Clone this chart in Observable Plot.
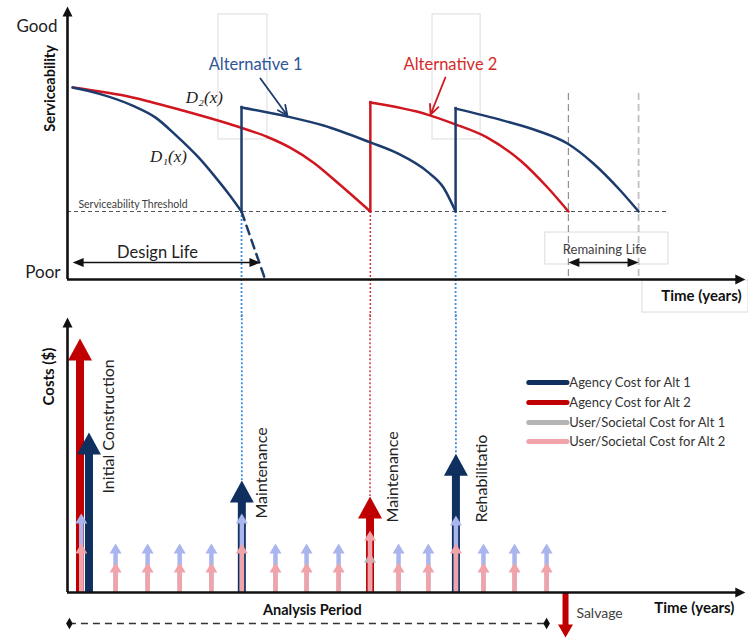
<!DOCTYPE html>
<html><head><meta charset="utf-8">
<script src="https://cdn.jsdelivr.net/npm/d3@7"></script>
<script src="https://cdn.jsdelivr.net/npm/@observablehq/plot@0.6"></script>
<style>
body{margin:0;background:#fff;}
#chart svg{display:block;overflow:visible;}
</style></head><body><div id="chart"></div>
<script>
// ---------- serviceability data (time in years, serviceability index 0 = Poor, 10 = Good) ----------
const alt1Cycle1 = [[0.16,7.03],[0.97,6.81],[2.03,6.37],[2.75,5.93],[3.37,5.30],[4.09,4.47],[4.62,3.74],[5.02,3.15],[5.43,2.49]];
const alt1Cycle2 = [[5.43,6.30],[6.86,5.97],[7.99,5.64],[9.45,5.02],[10.30,4.62],[11.23,3.95],[11.73,3.37],[12.11,2.49]];
const alt1Cycle3 = [[12.11,6.26],[13.60,5.82],[14.66,5.45],[15.60,4.98],[16.41,4.25],[17.25,3.26],[17.82,2.49]];
const alt2Cycle1 = [[0.16,7.03],[2.03,6.67],[3.59,6.19],[5.49,5.53],[6.24,5.22],[6.96,4.82],[7.68,4.28],[8.52,3.45],[9.45,2.49]];
const alt2Cycle2 = [[9.45,6.48],[11.23,6.04],[12.04,5.71],[13.10,5.20],[14.13,4.36],[14.98,3.37],[15.63,2.49]];
const d1Extension = [[5.43,2.49],[6.18,-0.04]];
const threshold = 2.49;
const alt1Treatments = [5.43, 12.11];
const alt2Treatments = [9.45];
const remainingLife = [15.63, 17.82];

// ---------- cost data ----------
const agencyAlt1Years = [0.67, 5.44, 12.12];
const agencyAlt1Costs = [5.82, 4.07, 5.05];
const agencyAlt2Years = [0.39, 9.44];
const agencyAlt2Costs = [9.24, 3.49];
const userYears = [0.43,1.5,2.5,3.5,4.49,5.44,6.49,7.46,8.46,9.44,10.33,11.26,12.12,12.98,13.95,14.95];
const userAlt1Costs = [2.87,1.78,1.78,1.78,1.78,2.87,1.78,1.78,1.78,null,1.78,1.78,2.80,1.78,1.78,1.78];
const userAlt1GrayYears = [9.44];
const userAlt1GrayCosts = [1.45];
const userAlt2Costs = [1.78,1.09,1.09,1.09,1.09,1.78,1.09,1.09,1.09,2.25,1.09,1.09,1.78,1.09,1.09,1.09];
const salvageYear = [15.54];
const salvageCost = [-1.64];
const analysisPeriod = [0.06, 14.95];
const eventLabels = ["Initial Construction","Maintenance","Maintenance","Rehabilitatio"];
const legendLabels = ["Agency Cost for Alt 1","Agency Cost for Alt 2","User/Societal Cost for Alt 1","User/Societal Cost for Alt 2"];

// ---------- colors ----------
const NAVY_LINE = "#1d3c6e", RED_LINE = "#d0161f";
const NAVY = "#0f2f5f", RED = "#c00000", LAV = "#aab5ee", PINK = "#f0a3a8", GRAY = "#b4b4b4";
const legendColors = [NAVY, RED, GRAY, PINK];

// ---------- helpers ----------
const head = (w, h) => ({draw(ctx){ctx.moveTo(0,0); ctx.lineTo(w/2,h); ctx.lineTo(-w/2,h); ctx.closePath();}});
const toRows = (arr, cycle) => arr.map(([t, v]) => ({t, v, cycle}));
const alt1Rows = [...toRows(alt1Cycle1,"c1"), ...toRows(alt1Cycle2,"c2"), ...toRows(alt1Cycle3,"c3")];
const alt2Rows = [...toRows(alt2Cycle1,"c1"), ...toRows(alt2Cycle2,"c2")];
const alt1Jumps = [alt1Cycle2[0], alt1Cycle3[0]];
const alt2Jumps = [alt2Cycle2[0]];
const zip = (xs, ys) => xs.map((x, i) => ({x, y: ys[i]})).filter(d => d.y != null);
const agency1 = zip(agencyAlt1Years, agencyAlt1Costs);
const agency2 = zip(agencyAlt2Years, agencyAlt2Costs);
const user1 = zip(userYears, userAlt1Costs);
const user1Gray = zip(userAlt1GrayYears, userAlt1GrayCosts);
const user2 = zip(userYears, userAlt2Costs);
const salvage = zip(salvageYear, salvageCost);

const annotationBoxes = [
  {x1:4.71, x2:6.24, y1:5.13, y2:9.71},
  {x1:11.39, x2:12.89, y1:5.13, y2:9.71},
  {x1:14.91, x2:18.75, y1:0.55, y2:1.72},
  {x1:17.94, x2:21.25, y1:-1.21, y2:-0.04}
];

const font = "Lato, 'Open Sans', sans-serif";
const common = {width: 748, marginLeft: 67, marginRight: 8,
  x: {domain: [0, 21], axis: null},
  style: {fontFamily: font, background: "white", overflow: "visible"}};

const topPlot = Plot.plot({
  ...common, height: 316, marginTop: 6, marginBottom: 37,
  y: {domain: [0, 10], axis: null},
  marks: [
    Plot.rect(annotationBoxes, {x1:"x1", x2:"x2", y1:"y1", y2:"y2", fill:"none", stroke:"#dcdcdc", strokeWidth:1}),
    // remaining life verticals
    Plot.ruleX([remainingLife[0]], {y1: 6.81, y2: 0, stroke:"#909090", strokeDasharray:"7,4", strokeWidth:1.2}),
    Plot.ruleX([remainingLife[1]], {y1: 6.81, y2: 0, stroke:"#c0c0c0", strokeDasharray:"7,4", strokeWidth:1.8}),
    // threshold
    Plot.ruleY([threshold], {x1: 0, x2: 18.75, stroke:"#555", strokeDasharray:"4,3", strokeWidth:1.1}),
    Plot.text(["Serviceability Threshold"], {x: 0.34, y: 2.75, textAnchor:"start", fontSize:10.5, fill:"#404040"}),
    // dotted links to treatments
    Plot.ruleX(alt1Treatments, {y1: threshold, y2: -1.4, stroke:"#3d8fd9", strokeDasharray:"2,2", strokeWidth:1.8}),
    Plot.ruleX(alt2Treatments, {y1: threshold, y2: -1.4, stroke:"#d0343a", strokeDasharray:"2,2", strokeWidth:1.5}),
    // curves
    Plot.line(alt2Rows, {x:"t", y:"v", z:"cycle", stroke: RED_LINE, strokeWidth:2.5, curve:"monotone-x"}),
    Plot.ruleX(alt2Jumps, {x: d => d[0], y1: threshold, y2: d => d[1], stroke: RED_LINE, strokeWidth:2.5, strokeLinecap:"square"}),
    Plot.line(alt1Rows, {x:"t", y:"v", z:"cycle", stroke: NAVY_LINE, strokeWidth:2.5, curve:"monotone-x"}),
    Plot.ruleX(alt1Jumps, {x: d => d[0], y1: threshold, y2: d => d[1], stroke: NAVY_LINE, strokeWidth:2.5, strokeLinecap:"square"}),
    Plot.line(d1Extension, {x: d => d[0], y: d => d[1], stroke: NAVY_LINE, strokeWidth:2.5, strokeDasharray:"9,6"}),
    // labels & pointers
    Plot.text(["Alternative 1"], {x: 5.87, y: 7.88, fill:"#2f5597", fontSize:16.5}),
    Plot.text(["Alternative 2"], {x: 11.95, y: 7.88, fill:"#d42a2a", fontSize:16.5}),
    Plot.arrow([{x1:6.02, y1:7.36, x2:6.86, y2:6.01}], {x1:"x1", y1:"y1", x2:"x2", y2:"y2", stroke: NAVY_LINE, strokeWidth:1.8, headLength:9, headAngle:50}),
    Plot.arrow([{x1:11.79, y1:7.40, x2:11.33, y2:6.04}], {x1:"x1", y1:"y1", x2:"x2", y2:"y2", stroke: RED_LINE, strokeWidth:1.8, headLength:9, headAngle:50}),
    Plot.text(["D₂(x)"], {x: 4.27, y: 6.67, fontSize:17, fontStyle:"italic", fontFamily:"'Liberation Serif', 'DejaVu Serif', serif", fill:"#222"}),
    Plot.text(["D₁(x)"], {x: 3.15, y: 4.51, fontSize:17, fontStyle:"italic", fontFamily:"'Liberation Serif', 'DejaVu Serif', serif", fill:"#222"}),
    // design life
    Plot.ruleY([0.62], {x1: 0.16, x2: 6.02, insetLeft: 4, insetRight: 4, stroke:"#111", strokeWidth:1.6}),
    Plot.dot([{x:0.16, y:0.62}], {x:"x", y:"y", symbol: head(9, 11), rotate: -90, fill:"#111", stroke:"none"}),
    Plot.dot([{x:6.02, y:0.62}], {x:"x", y:"y", symbol: head(9, 11), rotate: 90, fill:"#111", stroke:"none"}),
    Plot.text(["Design Life"], {x: 2.81, y: 0.99, fontSize:16.5, fill:"#222"}),
    // remaining life
    Plot.ruleY([0.62], {x1: remainingLife[0], x2: remainingLife[1], insetLeft: 4, insetRight: 4, stroke:"#111", strokeWidth:1.6}),
    Plot.dot([{x:remainingLife[0], y:0.62}], {x:"x", y:"y", symbol: head(9, 11), rotate: -90, fill:"#111", stroke:"none"}),
    Plot.dot([{x:remainingLife[1], y:0.62}], {x:"x", y:"y", symbol: head(9, 11), rotate: 90, fill:"#111", stroke:"none"}),
    Plot.text(["Remaining Life"], {x: 16.76, y: 1.10, fontSize:13, fill:"#404040"}),
    // axes
    Plot.ruleX([0], {y1: 10, y2: 0, insetTop: 8, stroke:"#111", strokeWidth:2.6}),
    Plot.dot([{x:0, y:10}], {x:"x", y:"y", symbol: head(10, 10), fill:"#111", stroke:"none"}),
    Plot.ruleY([0], {x1: 0, x2: 21.15, insetRight: 8, stroke:"#111", strokeWidth:2.6}),
    Plot.dot([{x:21.15, y:0}], {x:"x", y:"y", symbol: head(10, 10), rotate: 90, fill:"#111", stroke:"none"}),
    Plot.text(["Good"], {x: 0, dx: -10, y: 9.27, textAnchor:"end", fontSize:17, fill:"#222"}),
    Plot.text(["Poor"], {x: 0, dx: -7, y: 0.26, textAnchor:"end", fontSize:17, fill:"#222"}),
    Plot.text(["Serviceability"], {x: -0.53, y: 7.0, rotate: -90, fontSize:14.5, fontWeight:"bold", fill:"#111"}),
    Plot.text(["Time (years)"], {x: 19.78, y: -0.62, fontSize:15, fontWeight:"bold", fill:"#111"})
  ]
});

const bigHead = head(24, 22), smallHead = head(12, 10);
const bottomPlot = Plot.plot({
  ...common, height: 323, marginTop: 1, marginBottom: 47,
  y: {domain: [0, 10], axis: null},
  marks: [
    // dotted links from serviceability chart
    Plot.ruleX(agency1.slice(1), {x:"x", y1: 10.1, y2: "y", stroke:"#3d8fd9", strokeDasharray:"2,2", strokeWidth:1.8}),
    Plot.ruleX(agency2.slice(1), {x:"x", y1: 10.1, y2: "y", stroke:"#d0343a", strokeDasharray:"2,2", strokeWidth:1.5}),
    // agency costs
    Plot.ruleX(agency2, {x:"x", y1:"y", y2: 0, insetTop: 20, stroke: RED, strokeWidth: 8}),
    Plot.dot(agency2, {x:"x", y:"y", symbol: bigHead, fill: RED, stroke:"none"}),
    Plot.ruleX(agency1, {x:"x", y1:"y", y2: 0, insetTop: 20, stroke: NAVY, strokeWidth: 8}),
    Plot.dot(agency1, {x:"x", y:"y", symbol: bigHead, fill: NAVY, stroke:"none"}),
    // user costs
    Plot.ruleX(user1, {x:"x", y1:"y", y2: 0, insetTop: 8, stroke: LAV, strokeWidth: 4.5}),
    Plot.dot(user1, {x:"x", y:"y", symbol: smallHead, fill: LAV, stroke:"none"}),
    Plot.ruleX(user1Gray, {x:"x", y1:"y", y2: 0, insetTop: 8, stroke: GRAY, strokeWidth: 4.5}),
    Plot.dot(user1Gray, {x:"x", y:"y", symbol: smallHead, fill: GRAY, stroke:"none"}),
    Plot.ruleX(user2, {x:"x", y1:"y", y2: 0, insetTop: 8, stroke: PINK, strokeWidth: 4.5}),
    Plot.dot(user2, {x:"x", y:"y", symbol: smallHead, fill: PINK, stroke:"none"}),
    // salvage
    Plot.ruleX(salvage, {x:"x", y1: 0, y2:"y", insetBottom: 11, stroke: RED, strokeWidth: 6}),
    Plot.dot(salvage, {x:"x", y:"y", symbol: head(15, 13), rotate: 180, fill: RED, stroke:"none"}),
    Plot.text(["Salvage"], {x: 15.88, y: -0.76, textAnchor:"start", fontSize:14, fill:"#404040"}),
    // event labels
    Plot.text(eventLabels, {x: [1.28, 6.08, 10.14, 12.92], y: [3.6, 2.69, 2.55, 2.55], text: d => d, rotate: -90, textAnchor:"start", fontSize:16, fill:"#222"}),
    // axes
    Plot.ruleX([0], {y1: 10, y2: 0, insetTop: 8, stroke:"#111", strokeWidth:2.6}),
    Plot.dot([{x:0, y:10}], {x:"x", y:"y", symbol: head(10, 10), fill:"#111", stroke:"none"}),
    Plot.ruleY([0], {x1: 0, x2: 21.15, insetRight: 8, stroke:"#111", strokeWidth:2.6}),
    Plot.dot([{x:21.15, y:0}], {x:"x", y:"y", symbol: head(10, 10), rotate: 90, fill:"#111", stroke:"none"}),
    Plot.text(["Costs ($)"], {x: -0.58, y: 7.85, rotate: -90, fontSize:15, fontWeight:"bold", fill:"#111"}),
    Plot.text(["Time (years)"], {x: 19.56, y: -0.58, fontSize:15, fontWeight:"bold", fill:"#111"}),
    // analysis period
    Plot.text(["Analysis Period"], {x: 7.64, y: -0.65, fontSize:14.5, fontWeight:"bold", fill:"#111"}),
    Plot.ruleY([-1.13], {x1: analysisPeriod[0], x2: analysisPeriod[1], stroke:"#333", strokeWidth:1.5, strokeDasharray:"7,5"}),
    Plot.dot(analysisPeriod, {x: d => d, y: -1.13, symbol:"diamond", r: 3.5, fill:"#111", stroke:"none"}),
    // legend
    Plot.ruleY(legendLabels, {x1: 14.41, x2: 15.60, y: [7.64, 6.91, 6.18, 5.49], stroke: legendColors, strokeWidth: 5, strokeLinecap:"round"}),
    Plot.text(legendLabels, {x: 15.66, y: [7.64, 6.91, 6.18, 5.49], text: d => d, textAnchor:"start", fontSize:13, fill:"#333"})
  ]
});

const root = document.getElementById("chart");
root.appendChild(topPlot);
root.appendChild(bottomPlot);
</script>
</body></html>
